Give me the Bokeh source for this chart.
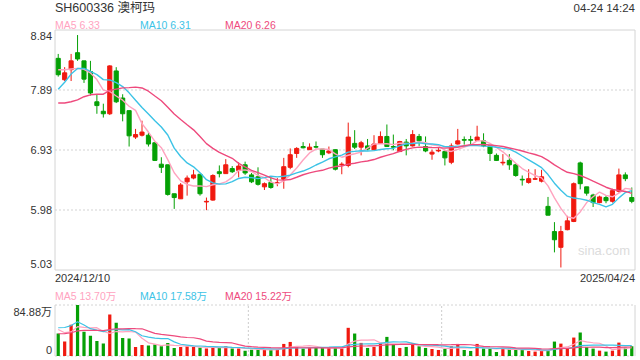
import numpy as np
import pandas as pd
from bokeh.plotting import figure
from bokeh.models import Range1d, Label, GlobalInlineStyleSheet
from bokeh.embed import file_html
from bokeh.resources import INLINE

title_text = "SH600336 澳柯玛"
time_text = "04-24 14:24"
start_date = "2024/12/10"
end_date = "2025/04/24"

open_ = [8.39, 8.05, 8.21, 8.48, 8.35, 8.18, 7.70, 7.55, 7.51, 8.19,
         7.76, 7.56, 7.14, 7.17, 7.17, 7.05, 6.71, 6.70, 6.24, 6.16,
         6.43, 6.49, 6.55, 6.11, 6.14, 6.59, 6.56, 6.64, 6.61, 6.70,
         6.54, 6.51, 6.35, 6.42, 6.41, 6.47, 6.66, 6.88, 6.99, 6.94,
         6.99, 6.95, 6.89, 6.94, 6.70, 6.69, 7.04, 6.98, 7.00, 6.94,
         7.04, 7.15, 6.99, 6.91, 7.06, 7.00, 7.15, 6.99, 6.87, 6.92,
         6.91, 6.74, 7.03, 7.10, 7.10, 7.09, 7.08, 7.00, 6.85, 6.73,
         6.77, 6.70, 6.47, 6.42, 6.47, 6.44, 6.04, 5.64, 5.39, 5.67,
         5.80, 6.73, 6.35, 6.22, 6.10, 6.18, 6.12, 6.28, 6.54, 6.18]
high = [8.46, 8.25, 8.46, 8.76, 8.35, 8.35, 7.82, 7.67, 8.28, 8.25,
        7.82, 7.56, 7.27, 7.40, 7.22, 7.05, 6.82, 6.70, 6.24, 6.41,
        6.53, 6.62, 6.55, 6.18, 6.55, 6.69, 6.79, 6.68, 6.74, 6.75,
        6.57, 6.66, 6.42, 6.51, 6.49, 6.81, 6.96, 6.98, 7.06, 7.04,
        7.07, 6.95, 6.99, 6.94, 6.74, 7.37, 7.25, 7.08, 7.11, 7.17,
        7.23, 7.34, 7.18, 7.08, 7.11, 7.25, 7.19, 7.15, 6.94, 6.98,
        6.94, 7.04, 7.27, 7.15, 7.16, 7.32, 7.20, 7.00, 6.88, 6.87,
        6.87, 6.72, 6.53, 6.63, 6.63, 6.62, 6.19, 5.79, 5.73, 5.89,
        6.42, 6.75, 6.35, 6.24, 6.21, 6.21, 6.32, 6.64, 6.58, 6.34]
low = [8.10, 8.03, 8.03, 8.35, 8.00, 7.80, 7.51, 7.45, 7.49, 7.68,
       7.39, 6.99, 7.11, 7.15, 6.99, 6.76, 6.57, 6.21, 6.00, 6.16,
       6.21, 6.47, 6.21, 5.98, 6.13, 6.50, 6.56, 6.57, 6.50, 6.54,
       6.41, 6.37, 6.30, 6.32, 6.36, 6.32, 6.63, 6.81, 6.96, 6.94,
       6.96, 6.81, 6.87, 6.61, 6.55, 6.66, 6.95, 6.85, 6.93, 6.93,
       7.03, 6.99, 6.93, 6.91, 6.85, 6.99, 7.00, 6.90, 6.78, 6.90,
       6.69, 6.71, 7.02, 7.02, 7.03, 7.09, 6.98, 6.76, 6.76, 6.69,
       6.62, 6.51, 6.37, 6.40, 6.46, 6.42, 5.90, 5.31, 5.07, 5.66,
       5.79, 6.31, 6.21, 6.03, 6.09, 6.09, 6.10, 6.26, 6.44, 6.09]
close = [8.13, 8.16, 8.35, 8.38, 8.06, 7.84, 7.64, 7.51, 8.27, 7.70,
         7.51, 7.16, 7.18, 7.22, 7.03, 6.77, 6.66, 6.23, 6.18, 6.38,
         6.49, 6.54, 6.24, 6.12, 6.53, 6.56, 6.70, 6.59, 6.68, 6.57,
         6.43, 6.39, 6.40, 6.34, 6.42, 6.67, 6.86, 6.96, 6.97, 6.98,
         6.98, 6.86, 6.92, 6.63, 6.71, 7.14, 6.98, 7.05, 6.95, 7.03,
         7.15, 6.99, 6.98, 7.07, 7.00, 7.18, 7.08, 6.92, 6.90, 6.93,
         6.81, 7.00, 7.08, 7.09, 7.09, 7.14, 7.00, 6.88, 6.77, 6.74,
         6.70, 6.53, 6.46, 6.48, 6.48, 6.51, 5.90, 5.51, 5.64, 5.81,
         6.40, 6.40, 6.25, 6.10, 6.19, 6.13, 6.29, 6.54, 6.48, 6.12]
volume = [37.4, 24.0, 51.9, 84.88, 40.2, 33.5, 25.1, 20.6, 69.2, 55.2,
          30.1, 29.0, 15.1, 18.4, 17.3, 19.0, 16.2, 21.8, 13.4, 15.1,
          16.2, 15.1, 14.0, 12.3, 14.0, 14.0, 16.2, 12.3, 12.3, 8.9,
          10.6, 10.6, 10.6, 10.0, 10.6, 20.1, 23.4, 16.2, 12.3, 14.0,
          14.0, 13.4, 13.4, 14.0, 12.3, 46.9, 37.4, 21.8, 13.4, 15.1,
          21.8, 31.8, 19.0, 13.4, 15.1, 21.8, 16.2, 13.4, 11.7, 10.0,
          11.7, 16.2, 20.1, 10.0, 8.4, 20.1, 12.3, 12.3, 6.7, 12.3,
          12.3, 10.6, 10.6, 8.4, 7.3, 8.4, 9.5, 24.0, 20.6, 12.8,
          30.7, 39.1, 15.1, 12.3, 8.9, 7.3, 8.9, 22.3, 14.0, 16.2]
# sessions before the first shown day (needed for the moving averages)
prior_close = [8.16, 7.95, 7.78, 7.06, 7.24, 7.44, 7.51, 7.07, 7.30, 7.11,
               7.06, 7.05, 7.48, 8.06, 8.30, 8.16, 8.30, 8.33, 8.13]
prior_volume = [20, 22, 25, 24, 28, 26, 30, 32, 30, 33,
                20, 20, 21, 95, 94, 50, 45, 42, 45.6]

price_ticks = [8.84, 7.8875, 6.935, 5.9825, 5.03]
price_tick_labels = ["8.84", "7.89", "6.93", "5.98", "5.03"]
vol_ticks = [84.88, 0]
vol_tick_labels = ["84.88万", "0"]
ma_price_labels = ["MA5 6.33", "MA10 6.31", "MA20 6.26"]
ma_vol_labels = ["MA5 13.70万", "MA10 17.58万", "MA20 15.22万"]
ma_windows = [5, 10, 20]
ma_colors = ["#ffa3bf", "#3cc3e6", "#ee4a7d"]
vol_sep = [29.5, 59.5]

RED = "#f0190f"
GREEN = "#05a005"
FONT = "Liberation Sans, Noto Sans CJK SC"
TXT = "#333333"
BORDER = "#d4d4d4"

# pixel geometry of the panels inside the 640x360 canvas
W, H = 640, 360
PX_L, PX_R = 54.5, 634.5
PY_TOP, PY_BOT = 29.5, 269.5
VY_TOP, VY_BOT = 304.5, 355.5

n = len(close)
idx = np.arange(n)
o = np.array(open_); c = np.array(close)
colors = [RED if c[i] >= o[i] else GREEN for i in range(n)]
body_top = np.maximum(o, c)
body_bot = np.minimum(o, c)

xs = (PX_R - PX_L) / n
x0 = -0.5 - PX_L / xs
x_range = Range1d(x0, x0 + W / xs)
pmax, pmin = price_ticks[0], price_ticks[-1]
ys = (PY_BOT - PY_TOP) / (pmax - pmin)
y_range = Range1d(pmin - (H - PY_BOT) / ys, pmax + PY_TOP / ys)
vmax, vmin = vol_ticks[0], vol_ticks[1]
vs_ = (VY_BOT - VY_TOP) / (vmax - vmin)
v_range = Range1d(vmin - (H - VY_BOT) / vs_, vmax + VY_TOP / vs_)

p = figure(width=W, height=H, x_range=x_range, y_range=y_range,
           x_axis_type=None, y_axis_type=None, toolbar_location=None, output_backend="svg",
           min_border=0, min_border_left=0, min_border_right=0, min_border_top=0, min_border_bottom=0)
p.extra_y_ranges = {"vol": v_range}
p.outline_line_color = None
p.background_fill_color = "white"
p.border_fill_color = "white"
p.xgrid.visible = False
p.ygrid.visible = False

xl, xr = -0.5, n - 0.5

# ---------- price panel ----------
p.segment([xl] * 3, price_ticks[1:-1], [xr] * 3, price_ticks[1:-1],
          line_color="#e2e2e2", line_dash="2 2", line_width=1.5)
p.segment([xl, xl, xr, xl], [pmin, pmax, pmin, pmin], [xr, xr, xr, xl], [pmin, pmax, pmax, pmax],
          line_color=BORDER, line_width=1)

p.segment(idx, high, idx, low, color=colors, line_width=1)
p.vbar(x=idx, width=0.64, top=body_top, bottom=body_bot, fill_color=colors, line_color=colors, line_width=1)

cs = pd.Series(prior_close + close)
for w, col in zip(ma_windows, ma_colors):
    ma = cs.rolling(w).mean().to_numpy()[-n:]
    p.line(idx, ma, color=col, line_width=1.4)

def lab(x, y, text, size, color, align, xo=0, yo=0, yr="default"):
    p.add_layout(Label(x=x, y=y, x_offset=xo, y_offset=yo, text=text, text_font=FONT,
                       text_font_size=size, text_color=color, text_baseline="middle",
                       text_align=align, y_range_name=yr))

lab(xl, pmax, title_text, "12.5px", TXT, "left", yo=22)
lab(xr, pmax, time_text, "11.5px", TXT, "right", yo=22)
for k, (t, col) in enumerate(zip(ma_price_labels, ma_colors)):
    lab(xl, pmax, t, "10.5px", col, "left", xo=85 * k, yo=5)
for k, (t, s) in enumerate(zip(price_ticks, price_tick_labels)):
    yo = -6 if k == 0 else (6 if k == len(price_ticks) - 1 else 0)
    lab(xl, t, s, "11px", TXT, "right", xo=-3, yo=yo)
lab(xl, pmin, start_date, "11px", TXT, "left", yo=-8)
lab(xr, pmin, end_date, "11px", TXT, "right", yo=-8)
lab(xr, pmin, "sina.com", "13px", "#dcdcdc", "center", xo=-31, yo=20)

# ---------- volume panel ----------
p.segment(vol_sep, [vmin] * 2, vol_sep, [vmax] * 2, line_color="#cccccc", line_dash="2 2",
          line_width=1, y_range_name="vol")
p.segment([xl, xl], [vmax, vmin], [xr, xr], [vmax, vmin], line_color=BORDER, line_dash="2 2",
          line_width=1, y_range_name="vol")
p.segment([xl, xr], [vmin, vmin], [xl, xr], [vmax, vmax], line_color=BORDER, line_width=1,
          y_range_name="vol")
p.vbar(x=idx, width=0.5, top=volume, bottom=0, fill_color=colors, line_color=None, y_range_name="vol")
vser = pd.Series(prior_volume + volume)
for w, col in zip(ma_windows, ma_colors):
    ma = vser.rolling(w).mean().to_numpy()[-n:]
    p.line(idx, ma, color=col, line_width=1.2, y_range_name="vol")

for k, (t, col) in enumerate(zip(ma_vol_labels, ma_colors)):
    lab(xl, vmax, t, "10.5px", col, "left", xo=85 * k, yo=9, yr="vol")
for k, (t, s) in enumerate(zip(vol_ticks, vol_tick_labels)):
    yo = -7 if k == 0 else 6
    lab(xl, t, s, "11px", TXT, "right", xo=-3, yo=yo, yr="vol")

p.stylesheets = [GlobalInlineStyleSheet(css="body{margin:0 !important;}")]

open("out.html", "w").write(file_html(p, INLINE))
